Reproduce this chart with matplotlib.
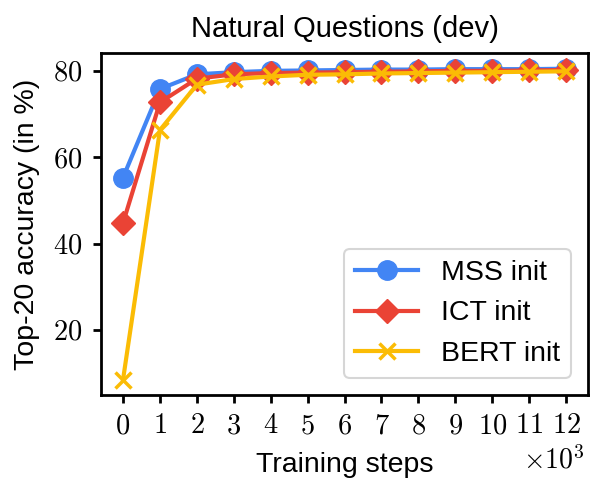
import matplotlib
matplotlib.use('Agg')
import matplotlib.pyplot as plt

steps = list(range(13))
mss_init = [55.3, 75.8, 79.2, 79.7, 80.0, 80.1, 80.2, 80.3, 80.3, 80.4, 80.4, 80.4, 80.5]
ict_init = [44.8, 72.7, 78.2, 79.2, 79.5, 79.6, 79.7, 79.8, 79.9, 80.0, 80.0, 80.1, 80.2]
bert_init = [8.5, 66.3, 76.8, 78.1, 78.7, 79.1, 79.2, 79.4, 79.5, 79.6, 79.7, 79.8, 79.9]
ytick_vals = [20, 40, 60, 80]

plt.rcParams['font.family'] = ['Liberation Sans', 'DejaVu Sans']
plt.rcParams['mathtext.fontset'] = 'cm'

fig = plt.figure(figsize=(5.9, 4.79), dpi=100)
ax = fig.add_axes([0.171, 0.175, 0.826, 0.714])

ax.plot(steps, mss_init, color='#4285F4', marker='o', ms=14, lw=3, label='MSS init')
ax.plot(steps, ict_init, color='#EA4335', marker='D', ms=12, lw=3, label='ICT init')
ax.plot(steps, bert_init, color='#FBBC05', marker='x', ms=12, mew=2.5, lw=3, label='BERT init')

ax.set_xticks(steps)
ax.set_xticklabels([f'${s}$' for s in steps], fontsize=20.5)
ax.set_yticks(ytick_vals)
ax.set_yticklabels([f'${v}$' for v in ytick_vals], fontsize=20.5)
ax.tick_params(width=2, length=6, pad=7)
for sp in ax.spines.values():
    sp.set_linewidth(2)

ax.set_title('Natural Questions (dev)', fontsize=21, pad=12)
ax.set_xlabel('Training steps', fontsize=20.5, labelpad=9)
ax.set_ylabel('Top-20 accuracy (in %)', fontsize=20.5, labelpad=10)
fig.text(0.99, 0.01, r'$\times 10^3$', ha='right', va='bottom', fontsize=20)

leg = ax.legend(loc='lower right', fontsize=20.5, handlelength=2.2, borderaxespad=0.6)
leg.get_frame().set_linewidth(1.5)

fig.savefig('out.png', dpi=100)
